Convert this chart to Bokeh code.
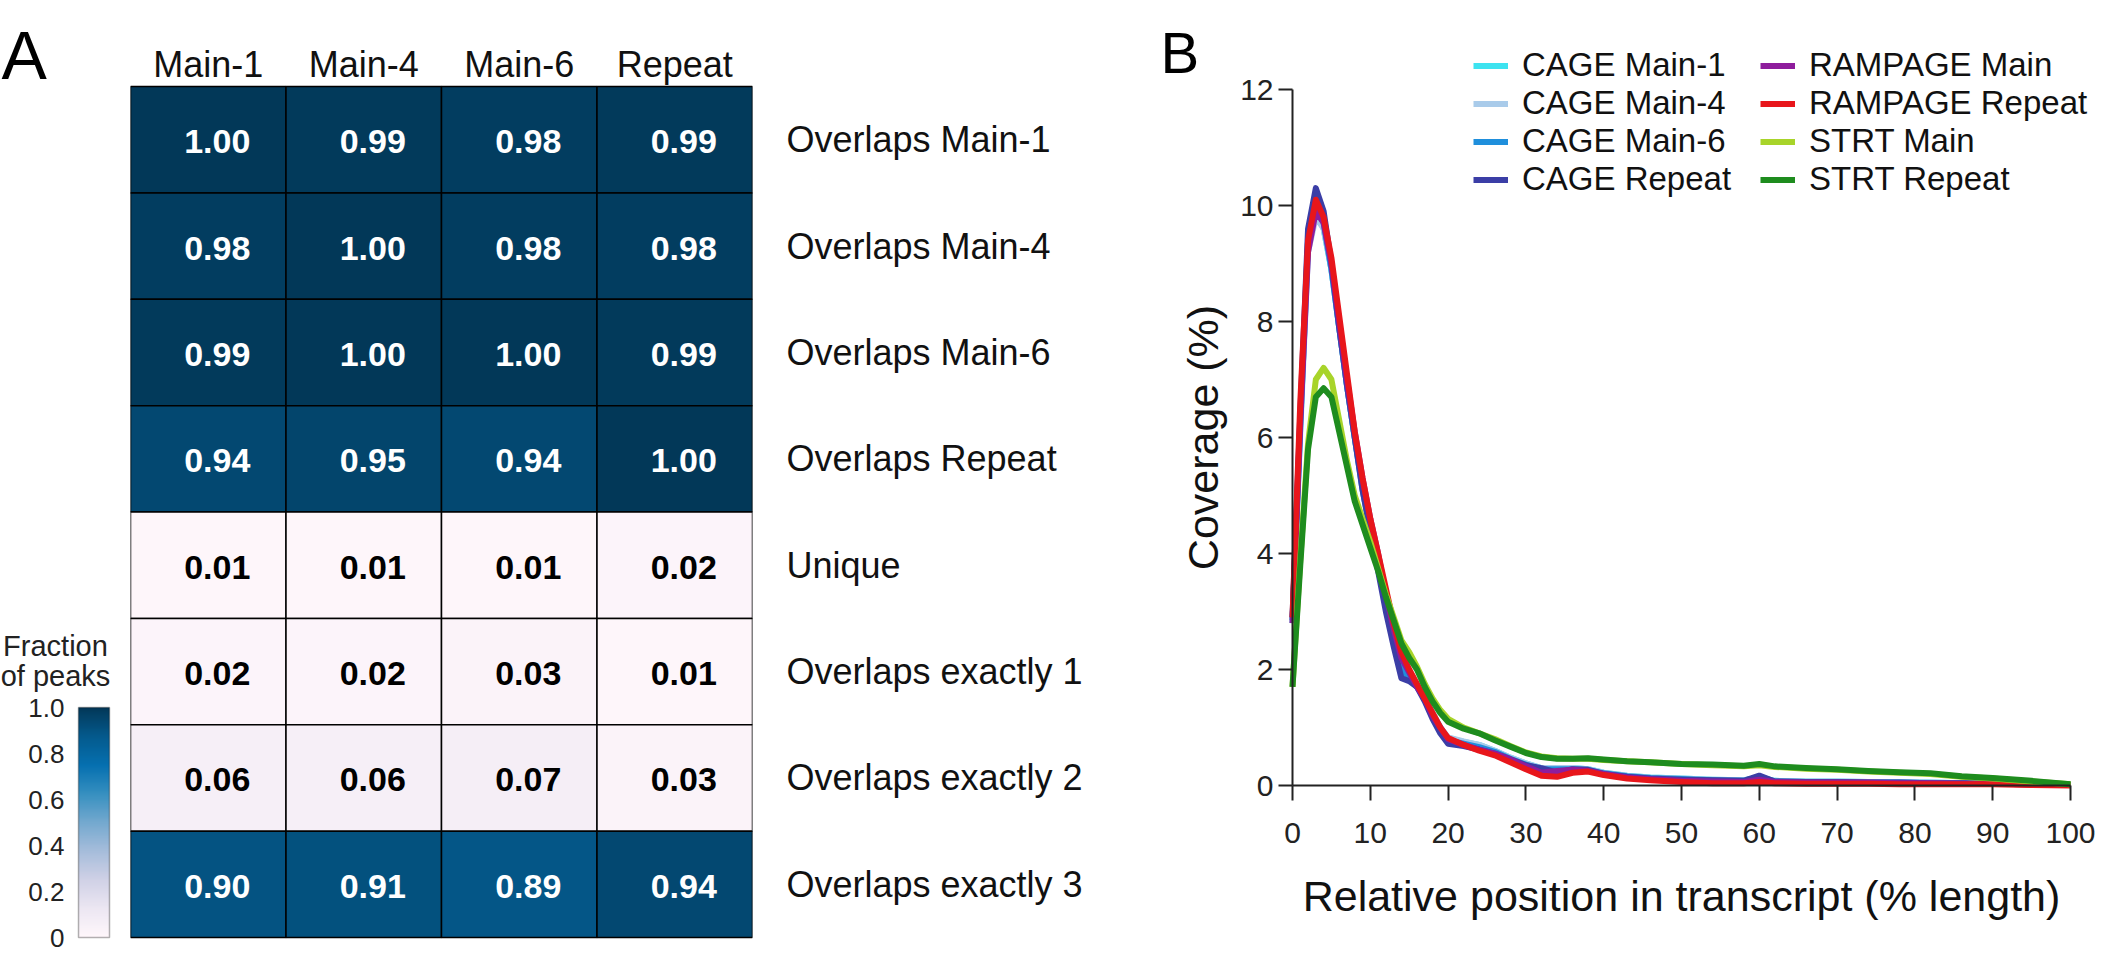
import numpy as np
from bokeh.plotting import figure
from bokeh.models import (FactorRange, Range1d, ColumnDataSource, LinearColorMapper,
                          Label, Legend, LegendItem, FixedTicker, BoxAnnotation)
from bokeh.layouts import row
from bokeh.transform import transform
from bokeh.core.properties import value
from bokeh.embed import file_html
from bokeh.resources import INLINE
from bokeh.palettes import PuBu9

FONT = "Liberation Sans"

# ---------------- Panel A data ----------------
columns = ["Main-1", "Main-4", "Main-6", "Repeat"]
row_labels = ["Overlaps Main-1", "Overlaps Main-4", "Overlaps Main-6", "Overlaps Repeat",
              "Unique", "Overlaps exactly 1", "Overlaps exactly 2", "Overlaps exactly 3"]
fraction = [
    [1.00, 0.99, 0.98, 0.99],
    [0.98, 1.00, 0.98, 0.98],
    [0.99, 1.00, 1.00, 0.99],
    [0.94, 0.95, 0.94, 1.00],
    [0.01, 0.01, 0.01, 0.02],
    [0.02, 0.02, 0.03, 0.01],
    [0.06, 0.06, 0.07, 0.03],
    [0.90, 0.91, 0.89, 0.94],
]
cbar_ticks = [0, 0.2, 0.4, 0.6, 0.8, 1.0]
cbar_tick_labels = ["0", "0.2", "0.4", "0.6", "0.8", "1.0"]

# ---------------- Panel B data ----------------
position = [0, 1, 2, 3, 4, 5, 6, 7, 8, 9, 10, 11, 12, 13, 14, 15, 16, 17, 18, 19, 20,
            22, 24, 26, 28, 30, 32, 34, 36, 38, 40,
            43, 46, 50, 54, 58, 60, 62, 66, 70, 74, 78, 82, 86, 90, 95, 100]
cage_main1 = [2.8, 6.2, 9.3, 9.9, 9.6, 8.9, 7.9, 6.9, 6.0, 5.2, 4.5, 3.9, 3.2, 2.6, 2.1, 1.9, 1.75, 1.5, 1.25, 1.0, 0.82,
              0.75, 0.7, 0.6, 0.48, 0.38, 0.3, 0.3, 0.3, 0.28, 0.22,
              0.17, 0.14, 0.12, 0.1, 0.09, 0.14, 0.08, 0.07, 0.07, 0.06, 0.06, 0.05, 0.04, 0.04, 0.03, 0.01]
cage_main4 = [2.8, 6.1, 9.2, 9.8, 9.6, 8.9, 7.9, 6.9, 6.0, 5.2, 4.5, 3.9, 3.2, 2.6, 2.1, 1.9, 1.75, 1.5, 1.25, 1.0, 0.83,
              0.76, 0.7, 0.6, 0.48, 0.38, 0.3, 0.3, 0.3, 0.28, 0.22,
              0.17, 0.14, 0.12, 0.1, 0.09, 0.13, 0.08, 0.07, 0.07, 0.06, 0.06, 0.05, 0.04, 0.04, 0.03, 0.01]
cage_main6 = [2.85, 6.2, 9.4, 10.0, 9.7, 8.9, 7.9, 6.9, 6.0, 5.1, 4.4, 3.8, 3.1, 2.5, 2.0, 1.85, 1.7, 1.5, 1.2, 0.95, 0.78,
              0.72, 0.66, 0.58, 0.46, 0.36, 0.28, 0.28, 0.28, 0.27, 0.21,
              0.16, 0.13, 0.11, 0.09, 0.08, 0.15, 0.07, 0.06, 0.06, 0.05, 0.05, 0.04, 0.04, 0.03, 0.02, 0.01]
cage_repeat = [2.9, 6.4, 9.6, 10.3, 9.9, 9.0, 7.9, 6.9, 6.0, 5.1, 4.4, 3.7, 3.0, 2.4, 1.85, 1.8, 1.7, 1.45, 1.15, 0.9, 0.72,
               0.68, 0.62, 0.55, 0.45, 0.35, 0.3, 0.22, 0.28, 0.27, 0.2,
               0.15, 0.12, 0.1, 0.09, 0.08, 0.17, 0.07, 0.06, 0.06, 0.05, 0.05, 0.04, 0.04, 0.03, 0.02, 0.01]
rampage_main = [2.8, 6.3, 9.2, 9.9, 9.7, 9.0, 8.0, 7.0, 6.1, 5.3, 4.6, 4.0, 3.3, 2.7, 2.2, 1.95, 1.7, 1.5, 1.2, 1.0, 0.8,
                0.7, 0.62, 0.55, 0.45, 0.33, 0.22, 0.25, 0.27, 0.25, 0.2,
                0.14, 0.11, 0.08, 0.07, 0.06, 0.1, 0.06, 0.05, 0.05, 0.05, 0.04, 0.04, 0.03, 0.03, 0.02, 0.01]
rampage_repeat = [2.9, 6.6, 9.4, 10.1, 9.8, 9.1, 8.1, 7.1, 6.1, 5.3, 4.6, 4.0, 3.4, 2.8, 2.3, 2.0, 1.75, 1.5, 1.25, 1.0, 0.82,
                  0.7, 0.6, 0.52, 0.4, 0.28, 0.17, 0.15, 0.22, 0.24, 0.18,
                  0.12, 0.09, 0.06, 0.04, 0.04, 0.06, 0.04, 0.03, 0.03, 0.03, 0.02, 0.02, 0.02, 0.02, 0.01, 0.0]
strt_main = [1.7, 3.9, 5.9, 7.0, 7.2, 7.0, 6.3, 5.6, 5.0, 4.6, 4.2, 3.75, 3.3, 2.9, 2.5, 2.3, 2.05, 1.75, 1.5, 1.3, 1.15,
             1.0, 0.9, 0.8, 0.68, 0.57, 0.5, 0.47, 0.46, 0.46, 0.44,
             0.42, 0.4, 0.37, 0.35, 0.33, 0.35, 0.32, 0.29, 0.27, 0.24, 0.22, 0.2, 0.15, 0.12, 0.07, 0.02]
strt_repeat = [1.7, 3.8, 5.8, 6.7, 6.85, 6.7, 6.1, 5.5, 4.9, 4.5, 4.1, 3.7, 3.25, 2.85, 2.45, 2.2, 2.0, 1.7, 1.45, 1.25, 1.1,
               0.98, 0.9, 0.78, 0.67, 0.56, 0.49, 0.46, 0.46, 0.47, 0.45,
               0.42, 0.4, 0.37, 0.36, 0.34, 0.37, 0.33, 0.3, 0.28, 0.25, 0.23, 0.21, 0.16, 0.13, 0.08, 0.02]
series_names = ["CAGE Main-1", "CAGE Main-4", "CAGE Main-6", "CAGE Repeat",
                "RAMPAGE Main", "RAMPAGE Repeat", "STRT Main", "STRT Repeat"]
series_values = [cage_main1, cage_main4, cage_main6, cage_repeat,
                 rampage_main, rampage_repeat, strt_main, strt_repeat]
series_colors = ["#3de3f0", "#a9cbea", "#1f8fdc", "#3b3ea6",
                 "#8e1d9c", "#e8161b", "#a8d42a", "#1e8c1e"]
x_ticks = [0, 10, 20, 30, 40, 50, 60, 70, 80, 90, 100]
y_ticks = [0, 2, 4, 6, 8, 10, 12]

# ---------------- palette (PuBu, light -> dark) ----------------
base = list(PuBu9)[::-1]
rgb = np.array([[int(c[i:i + 2], 16) for i in (1, 3, 5)] for c in base], float)
knots = np.linspace(0, 1, len(base))
palette = ["#%02x%02x%02x" % tuple(int(round(np.interp(t, knots, rgb[:, j]))) for j in range(3))
           for t in np.linspace(0, 1, 256)]
mapper = LinearColorMapper(palette=palette, low=0, high=1)

# ---------------- shared geometry (page pixels) ----------------
H = 953
FRAME_T = 8            # every frame spans page y 8 .. 961 (whole canvas)
FRAME_B = 8 + H
GRID_TOP, GRID_BOT = 94, 945   # heat map and colour bar vertical extent

# ---------------- colour bar figure (page x 8..128) ----------------
BAR_L, BAR_R = 86, 117
BAR_PX = 230
CBX = BAR_R - BAR_L


def cb_x(px):
    return (px - BAR_L) / CBX


def cb_y(py):
    return (GRID_BOT - py) / BAR_PX


cb = figure(width=120, height=H,
            x_range=Range1d(cb_x(8), cb_x(128)),
            y_range=Range1d(cb_y(FRAME_B), cb_y(FRAME_T)),
            x_axis_location=None, y_axis_location="left", toolbar_location=None, output_backend="svg",
            min_border=0, min_border_left=0, min_border_right=0, min_border_top=0, min_border_bottom=0)
cb.image(image=[np.linspace(0, 1, 256).reshape(256, 1)], x=0, y=0, dw=1, dh=1, color_mapper=mapper)
cb.add_layout(BoxAnnotation(left=0, right=1, bottom=0, top=1, fill_alpha=0,
                            line_color="black", line_width=1.5))
cb.grid.visible = False
cb.outline_line_color = None
cb.yaxis.fixed_location = 0
cb.yaxis.ticker = FixedTicker(ticks=cbar_ticks)
cb.yaxis.major_label_overrides = {t: s for t, s in zip(cbar_ticks, cbar_tick_labels)}
cb.yaxis.axis_line_color = None
cb.yaxis.major_tick_line_color = None
cb.yaxis.minor_tick_line_color = None
cb.yaxis.major_label_standoff = 8
cb.yaxis.major_label_text_font = FONT
cb.yaxis.major_label_text_font_size = "26px"
cb.yaxis.major_label_text_color = "#222222"
for txt, py in [("Fraction", 653), ("of peaks", 683)]:
    cb.add_layout(Label(x=cb_x(63), y=cb_y(py), text=txt,
                        text_font=FONT, text_font_size="29px", text_align="center",
                        text_baseline="middle", text_color="#222222"))
cb.add_layout(Label(x=cb_x(9), y=cb_y(62), text="A",
                    text_font=FONT, text_font_size="68px", text_align="left",
                    text_baseline="alphabetic", text_color="black"))

# ---------------- heatmap figure (page x 128..1150) ----------------
n_rows = len(row_labels)
ROW_PX = (GRID_BOT - GRID_TOP) / n_rows
row_pos = [n_rows - 0.5 - i for i in range(n_rows)]
cells = {"col": [], "y": [], "val": [], "txt": [], "tcolor": []}
for r in range(n_rows):
    for c, cl in enumerate(columns):
        v = fraction[r][c]
        cells["col"].append(cl)
        cells["y"].append(row_pos[r])
        cells["val"].append(v)
        cells["txt"].append("%.2f" % v)
        cells["tcolor"].append("white" if v > 0.5 else "black")
src = ColumnDataSource(cells)

hm = figure(width=1022, height=H, x_range=FactorRange(factors=columns),
            y_range=Range1d(-(FRAME_B - GRID_BOT) / ROW_PX, n_rows + (GRID_TOP - FRAME_T) / ROW_PX),
            x_axis_location="above", y_axis_location="right",
            toolbar_location=None, output_backend="svg",
            min_border=0, min_border_left=10, min_border_right=390,
            min_border_top=0, min_border_bottom=0)
hm.rect(x="col", y="y", width=1, height=1, source=src,
        fill_color=transform("val", mapper), line_color="black", line_width=1.5)
hm.text(x="col", y="y", text="txt", source=src, text_color="tcolor",
        text_font=value(FONT), text_font_style="bold", text_font_size="34px",
        text_align="center", text_baseline="middle", x_offset=9, y_offset=2)
hm.grid.visible = False
hm.outline_line_color = None
hm.xaxis.fixed_location = n_rows - 4.5 / ROW_PX
hm.yaxis.ticker = FixedTicker(ticks=row_pos)
hm.yaxis.major_label_overrides = {p: l for p, l in zip(row_pos, row_labels)}
for ax in (hm.xaxis[0], hm.yaxis[0]):
    ax.axis_line_color = None
    ax.major_tick_line_color = None
    ax.minor_tick_line_color = None
    ax.major_label_text_font = FONT
    ax.major_label_text_font_size = "36px"
    ax.major_label_text_color = "#111111"
hm.xaxis.major_label_standoff = 0
hm.yaxis.major_label_standoff = 28

# ---------------- line chart figure (page x 1150..2109) ----------------
X0, X100 = 1300, 2078      # page x of 0 and 100
Y0, Y12 = 793, 97          # page y of 0 and 12
XPPU = (X100 - X0) / 100.0
YPPU = (Y0 - Y12) / 12.0


def lc_x(px):
    return (px - X0) / XPPU


def lc_y(py):
    return (Y0 - py) / YPPU


lc = figure(width=959, height=H,
            x_range=Range1d(lc_x(1150), lc_x(2109)),
            y_range=Range1d(lc_y(FRAME_B), lc_y(FRAME_T)),
            toolbar_location=None, output_backend="svg",
            min_border=0, min_border_left=0, min_border_right=0, min_border_top=0, min_border_bottom=0)
items = []
for name, vals, col in zip(series_names, series_values, series_colors):
    rr = lc.line(position, vals, line_color=col, line_width=6, line_join="round")
    items.append(LegendItem(label=name, renderers=[rr]))
lc.grid.visible = False
lc.outline_line_color = None
lc.xaxis.ticker = FixedTicker(ticks=x_ticks)
lc.yaxis.ticker = FixedTicker(ticks=y_ticks)
lc.xaxis.bounds = (0, 100)
lc.yaxis.bounds = (0, 12)
lc.xaxis.fixed_location = 0
lc.yaxis.fixed_location = 0
for ax in (lc.xaxis[0], lc.yaxis[0]):
    ax.axis_line_width = 2
    ax.axis_line_color = "#222222"
    ax.major_tick_line_width = 2
    ax.major_tick_line_color = "#222222"
    ax.major_tick_in = 0
    ax.minor_tick_line_color = None
    ax.major_label_text_font = FONT
    ax.major_label_text_font_size = "30px"
    ax.major_label_text_color = "#222222"
    ax.axis_label_text_font = FONT
    ax.axis_label_text_font_size = "43px"
    ax.axis_label_text_font_style = "normal"
    ax.axis_label_text_color = "#111111"
lc.xaxis.major_tick_out = 15
lc.yaxis.major_tick_out = 14
lc.xaxis.major_label_standoff = 22
lc.yaxis.major_label_standoff = 5
lc.xaxis.axis_label = "Relative position in transcript (% length)"
lc.yaxis.axis_label = "Coverage (%)"
lc.xaxis.axis_label_standoff = 26
lc.yaxis.axis_label_standoff = 10

legend = Legend(items=items, location=(1481 - 1150, FRAME_B - 206), orientation="vertical", nrows=4,
                glyph_width=35, glyph_height=37, label_height=37, label_width=238,
                label_standoff=14, spacing=0, padding=0, margin=0,
                border_line_color=None, background_fill_alpha=0,
                label_text_font=FONT, label_text_font_size="33px", label_text_color="#111111")
lc.add_layout(legend)
lc.add_layout(Label(x=lc_x(1168), y=lc_y(60), text="B",
                    text_font=FONT, text_font_size="58px", text_align="left",
                    text_baseline="alphabetic", text_color="black"))

layout = row(cb, hm, lc)
open("out.html", "w").write(file_html(layout, INLINE))
